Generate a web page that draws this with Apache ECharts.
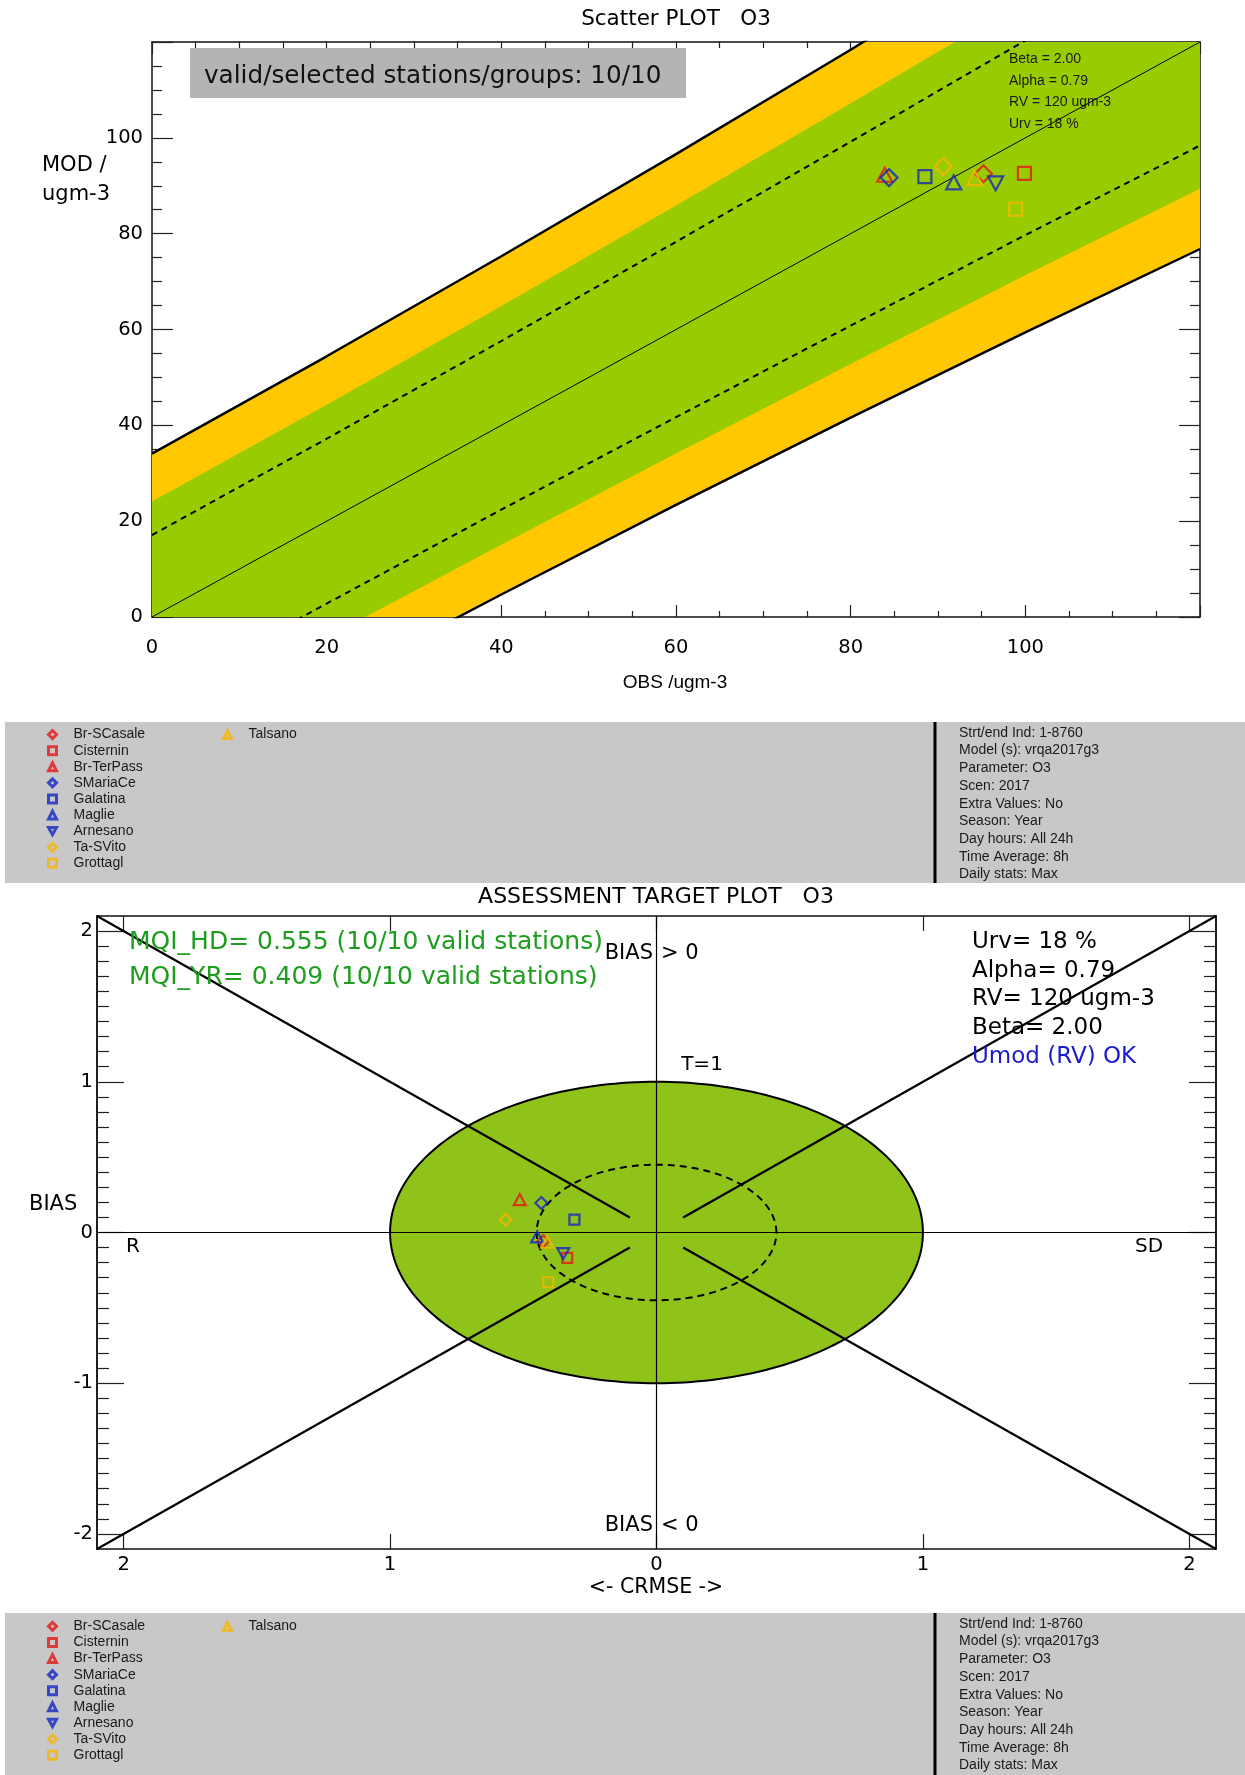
<!DOCTYPE html>
<html><head><meta charset="utf-8">
<script src="https://cdn.jsdelivr.net/npm/echarts@6/dist/echarts.min.js"></script>
<style>html,body{margin:0;padding:0;background:#fff}#c{width:1245px;height:1775px}</style>
</head><body><div id="c"></div>
<script>
// ---------------- data ----------------
const STATIONS = ['Br-SCasale','Cisternin','Br-TerPass','SMariaCe','Galatina','Maglie','Arnesano','Ta-SVito','Grottagl','Talsano'];
const SYMBOLS  = ['diamond','rect','triangle','diamond','rect','triangle','downTriangle','diamond','rect','triangle'];
const COLOR_KEYS = ['red','red','red','blue','blue','blue','blue','orange','orange','orange'];
// scatter plot (OBS vs MOD, ugm-3)
const OBS = [95.2, 99.9, 83.9, 84.4, 88.5, 91.8, 96.6, 90.6, 98.9, 94.2];
const MOD = [92.5, 92.6, 92.3, 91.7, 91.9, 90.7, 90.5, 94.0, 85.1, 91.6];
// target plot (normalised CRMSE, BIAS)
const CRMSE_T = [-0.425, -0.335, -0.513, -0.432, -0.308, -0.448, -0.350, -0.566, -0.406, -0.410];
const BIAS_T  = [-0.058, -0.168,  0.218,  0.196,  0.085, -0.029, -0.140,  0.085, -0.330, -0.065];
// scatter acceptance bands (half widths around MOD = OBS)
const OBS_GRID   = [0, 20, 40, 60, 80, 100, 120];
const DASH_HALF  = [17.1, 17.2, 17.6, 18.3, 19.2, 20.3, 21.6];
const GREEN_HALF = [24.1, 24.3, 24.9, 25.9, 27.2, 28.7, 30.6];
const OUTER_HALF = [34.1, 34.4, 35.3, 36.6, 38.4, 40.6, 43.2];
const IDENTITY   = [[0, 0], [120, 120]];
// target plot geometry
const T_RADIUS = 1;
const DASH_RADIUS = 0.45;
const DIAGONALS = [
  [[-2.1, 2.1], [-0.1, 0.1]], [[2.1, 2.1], [0.1, 0.1]],
  [[-2.1, -2.1], [-0.1, -0.1]], [[2.1, -2.1], [0.1, -0.1]]
];
const CROSS = [[[-2.1, 0], [2.1, 0]], [[0, -2.1], [0, 2.1]]];
const TARGET_TICKS = [-2, -1, 0, 1, 2];
const TARGET_MINOR = [];
for (let k = -20; k <= 20; k++) if (k % 10 !== 0) TARGET_MINOR.push(k / 10);
// texts
const PARAM_LINES = ['Beta = 2.00', 'Alpha = 0.79', 'RV = 120 ugm-3', 'Urv = 18 %'];
const INFO_LINES = ['Strt/end Ind: 1-8760','Model (s): vrqa2017g3','Parameter: O3','Scen: 2017','Extra Values: No','Season: Year','Day hours: All 24h','Time Average: 8h','Daily stats: Max'];
const MQI_LINES = ['MQI_HD= 0.555 (10/10 valid stations)', 'MQI_YR= 0.409 (10/10 valid stations)'];
const TARGET_PARAMS = ['Urv= 18 %', 'Alpha= 0.79', 'RV= 120 ugm-3', 'Beta= 2.00'];
const UMOD_TEXT = 'Umod (RV) OK';

// ---------------- styles ----------------
const COLORS = {red: '#e41616', blue: '#1326c4', orange: '#f7b500'};
const YELLOW = '#ffc800', GREEN = '#99cc00', GREEN_T = '#8fc31a';
const ARIAL = '"Liberation Sans", Arial, sans-serif';
const BIG = '"DejaVu Sans", sans-serif';
const HERSHEY = '"DejaVu Sans", sans-serif';
const SC_SIZE = {diamond: [17, 17], rect: 13, triangle: [15, 14], downTriangle: [15, 14]};
const TG_SIZE = {diamond: [12, 12], rect: 10, triangle: [12, 11], downTriangle: [12, 11]};
const symName = s => s === 'downTriangle' ? 'triangle' : s;
const symRot = s => s === 'downTriangle' ? 180 : 0;
const legendIcon = s => s === 'downTriangle' ? 'path://M0,0L10,0L5,9Z' : s;

const chart = echarts.init(document.getElementById('c'), null, {renderer: 'canvas'});

const frameLine = {show: true, onZero: false, lineStyle: {color: '#111', width: 1.5}};
const tickStyle = {color: '#222', width: 1.2};

function scAxisX(pos, showLabel) {
  return {gridIndex: 0, type: 'value', min: 0, max: 120, interval: 20, position: pos,
    axisLine: frameLine,
    axisTick: {inside: true, length: 12, lineStyle: tickStyle},
    minorTick: {show: true, splitNumber: 4, length: 6, lineStyle: tickStyle},
    splitLine: {show: false}, minorSplitLine: {show: false},
    axisLabel: {show: showLabel, margin: 21, fontSize: 19.5, color: '#000', fontFamily: BIG,
      formatter: v => v === 120 ? '' : String(v)}};
}
function scAxisY(pos, showLabel) {
  return {gridIndex: 0, type: 'value', min: 0, max: 120, interval: 20, position: pos,
    axisLine: frameLine,
    axisTick: {inside: true, length: 21, lineStyle: tickStyle},
    minorTick: {show: true, splitNumber: 4, length: 10, lineStyle: tickStyle},
    splitLine: {show: false}, minorSplitLine: {show: false},
    axisLabel: {show: showLabel, margin: 9, fontSize: 19.5, color: '#000', fontFamily: BIG,
      formatter: v => v === 120 ? '' : String(v)}};
}
function tgAxisX(pos, showLabel) {
  return {gridIndex: 1, type: 'value', min: -2.1, max: 2.1, position: pos,
    axisLine: frameLine,
    axisTick: {inside: true, length: 15, customValues: TARGET_TICKS, lineStyle: tickStyle},
    splitLine: {show: false},
    axisLabel: {show: showLabel, customValues: TARGET_TICKS, margin: 6, fontSize: 19.5, color: '#000',
      fontFamily: BIG, formatter: v => String(Math.abs(v))}};
}
function tgAxisY(pos, showLabel, minor) {
  return {gridIndex: 1, type: 'value', min: -2.1, max: 2.1, position: pos, offset: 0,
    axisLine: frameLine,
    axisTick: {inside: true, length: minor ? 12 : 27, customValues: minor ? TARGET_MINOR : TARGET_TICKS, lineStyle: tickStyle},
    splitLine: {show: false},
    axisLabel: {show: showLabel, customValues: TARGET_TICKS, margin: 4, fontSize: 19.5, color: '#000',
      fontFamily: BIG, formatter: v => String(v)}};
}

const bandPoints = (api, half) => {
  const up = OBS_GRID.map((o, i) => api.coord([o, o + half[i]]));
  const lo = OBS_GRID.map((o, i) => api.coord([o, o - half[i]])).reverse();
  return up.concat(lo);
};
const edgeLine = (half, sign) => OBS_GRID.map((o, i) => [o, o + sign * half[i]]);

const series = [];
// scatter bands
series.push({type: 'custom', xAxisIndex: 0, yAxisIndex: 0, clip: true, silent: true, z: 1,
  data: [[0, 0]],
  renderItem: (params, api) => ({type: 'group', children: [
    {type: 'polygon', shape: {points: bandPoints(api, OUTER_HALF)}, style: {fill: YELLOW}},
    {type: 'polygon', shape: {points: bandPoints(api, GREEN_HALF)}, style: {fill: GREEN}}
  ]})
});
const lineSeries = (data, style) => ({type: 'line', xAxisIndex: 0, yAxisIndex: 0, data, symbol: 'none',
  silent: true, z: 3, clip: true, lineStyle: style, animation: false});
series.push(lineSeries(edgeLine(OUTER_HALF, 1), {color: '#000', width: 2.4}));
series.push(lineSeries(edgeLine(OUTER_HALF, -1), {color: '#000', width: 2.4}));
series.push(lineSeries(edgeLine(DASH_HALF, 1), {color: '#000', width: 2, type: [6, 5]}));
series.push(lineSeries(edgeLine(DASH_HALF, -1), {color: '#000', width: 2, type: [6, 5]}));
series.push(lineSeries(IDENTITY, {color: '#000', width: 1}));

// target background circles
series.push({type: 'custom', xAxisIndex: 2, yAxisIndex: 2, silent: true, z: 1, data: [[0, 0]],
  renderItem: (params, api) => {
    const circ = r => { const p = []; for (let k = 0; k <= 240; k++) { const t = k / 240 * 2 * Math.PI; p.push(api.coord([r * Math.cos(t), r * Math.sin(t)])); } return p; };
    return {type: 'group', children: [
      {type: 'polygon', shape: {points: circ(T_RADIUS)}, style: {fill: GREEN_T, stroke: '#000', lineWidth: 2}},
      {type: 'polyline', shape: {points: circ(DASH_RADIUS)}, style: {fill: null, stroke: '#000', lineWidth: 2, lineDash: [7, 5]}}
    ]};
  }});
series.push({type: 'lines', coordinateSystem: 'cartesian2d', xAxisIndex: 2, yAxisIndex: 2, silent: true, z: 3,
  data: DIAGONALS.map(c => ({coords: c})), lineStyle: {color: '#000', width: 2.2, opacity: 1}});
series.push({type: 'lines', coordinateSystem: 'cartesian2d', xAxisIndex: 2, yAxisIndex: 2, silent: true, z: 3,
  data: CROSS.map(c => ({coords: c})), lineStyle: {color: '#000', width: 1.2, opacity: 1}});

// station markers
STATIONS.forEach((name, i) => {
  const s = SYMBOLS[i], col = COLORS[COLOR_KEYS[i]];
  const st = {color: 'rgba(0,0,0,0)', borderColor: col, borderWidth: 2.2};
  series.push({type: 'scatter', name, xAxisIndex: 0, yAxisIndex: 0, z: 5,
    symbol: symName(s), symbolRotate: symRot(s), symbolSize: SC_SIZE[s],
    itemStyle: st, data: [[OBS[i], MOD[i]]]});
  series.push({type: 'scatter', name, xAxisIndex: 2, yAxisIndex: 2, z: 5,
    symbol: symName(s), symbolRotate: symRot(s), symbolSize: TG_SIZE[s],
    itemStyle: st, data: [[CRMSE_T[i], BIAS_T[i]]]});
});

const legendItem = i => ({name: STATIONS[i], icon: legendIcon(SYMBOLS[i]),
  itemStyle: {color: 'rgba(0,0,0,0)', borderColor: COLORS[COLOR_KEYS[i]], borderWidth: 3}});
const legendBase = {orient: 'vertical', padding: 0, itemGap: 0, itemWidth: 8, itemHeight: 8,
  selectedMode: false,
  textStyle: {fontSize: 14, fontFamily: ARIAL, color: '#1a1a1a', lineHeight: 16.1, padding: [0, 0, 0, 12]}};
const firstCol = [0, 1, 2, 3, 4, 5, 6, 7, 8].map(legendItem);

function panel(top, height) {
  return [
    {type: 'rect', z: 0, shape: {x: 5, y: top, width: 1240, height}, style: {fill: '#c8c8c8'}},
    {type: 'line', z: 1, shape: {x1: 935, y1: top, x2: 935, y2: top + height}, style: {stroke: '#000', lineWidth: 3}},
    {type: 'text', z: 1, x: 959, y: top + 2, style: {text: INFO_LINES.join('\n'), font: '14px ' + ARIAL,
      fill: '#1a1a1a', lineHeight: 17.7, align: 'left', verticalAlign: 'top', textAlign: 'left', textVerticalAlign: 'top'}}
  ];
}
const txt = (x, y, text, font, fill, align, z) => ({type: 'text', z: z || 10, x, y,
  style: {text, font, fill, align: align || 'center', verticalAlign: 'middle', textAlign: align || 'center', textVerticalAlign: 'middle'}});

const graphics = [].concat(
  panel(722, 161),
  panel(1613, 162),
  [
    txt(676, 19, 'Scatter PLOT   O3', '21.5px ' + BIG, '#000'),
    {type: 'rect', z: 10, shape: {x: 190, y: 48, width: 496, height: 50}, style: {fill: '#b4b4b4'}},
    txt(204, 77, 'valid/selected stations/groups: 10/10', '24.7px ' + BIG, '#111', 'left', 11),
    {type: 'text', z: 10, x: 1009, y: 48, style: {text: PARAM_LINES.join('\n'), font: '14px ' + ARIAL, fill: '#1a1a1a',
      lineHeight: 21.8, align: 'left', verticalAlign: 'top', textAlign: 'left', textVerticalAlign: 'top'}},
    {type: 'text', z: 10, x: 42, y: 151, style: {text: 'MOD /\nugm-3', font: '21px ' + BIG, fill: '#000',
      lineHeight: 29.3, align: 'left', verticalAlign: 'top', textAlign: 'left', textVerticalAlign: 'top'}},
    txt(675, 683, 'OBS /ugm-3', '19px ' + ARIAL, '#000'),
    txt(656, 897, 'ASSESSMENT TARGET PLOT   O3', '22px ' + BIG, '#000'),
    txt(129, 942, MQI_LINES[0], '25px ' + HERSHEY, '#1e9e1e', 'left'),
    txt(129, 977, MQI_LINES[1], '25px ' + HERSHEY, '#1e9e1e', 'left'),
    txt(972, 942, TARGET_PARAMS[0], '23px ' + HERSHEY, '#000', 'left'),
    txt(972, 971, TARGET_PARAMS[1], '23px ' + HERSHEY, '#000', 'left'),
    txt(972, 999, TARGET_PARAMS[2], '23px ' + HERSHEY, '#000', 'left'),
    txt(972, 1028, TARGET_PARAMS[3], '23px ' + HERSHEY, '#000', 'left'),
    txt(972, 1057, UMOD_TEXT, '23px ' + HERSHEY, '#1a1ad0', 'left'),
    txt(653, 954, 'BIAS', '21px ' + BIG, '#000', 'right'),
    txt(661, 954, '> 0', '21px ' + BIG, '#000', 'left'),
    txt(653, 1526, 'BIAS', '21px ' + BIG, '#000', 'right'),
    txt(661, 1526, '< 0', '21px ' + BIG, '#000', 'left'),
    txt(702, 1065, 'T=1', '20px ' + BIG, '#000'),
    txt(29, 1205, 'BIAS', '21px ' + BIG, '#000', 'left'),
    txt(133, 1247, 'R', '20px ' + BIG, '#000'),
    txt(1149, 1247, 'SD', '20px ' + BIG, '#000'),
    txt(656, 1588, '<- CRMSE ->', '20.5px ' + BIG, '#000')
  ]
);

chart.setOption({
  animation: false,
  backgroundColor: '#fff',
  grid: [
    {left: 152, top: 42, width: 1048, height: 575},
    {left: 97, top: 916, width: 1119, height: 633}
  ],
  xAxis: [scAxisX('bottom', true), scAxisX('top', false), tgAxisX('bottom', true), tgAxisX('top', false)],
  yAxis: [scAxisY('left', true), scAxisY('right', false), tgAxisY('left', true, false), tgAxisY('left', false, true),
          tgAxisY('right', false, false), tgAxisY('right', false, true)],
  legend: [
    Object.assign({}, legendBase, {left: 47, top: 726.5, data: firstCol}),
    Object.assign({}, legendBase, {left: 222, top: 726.5, data: [legendItem(9)]}),
    Object.assign({}, legendBase, {left: 47, top: 1618.3, data: firstCol}),
    Object.assign({}, legendBase, {left: 222, top: 1618.3, data: [legendItem(9)]})
  ],
  graphic: {elements: graphics},
  series
});
</script></body></html>
